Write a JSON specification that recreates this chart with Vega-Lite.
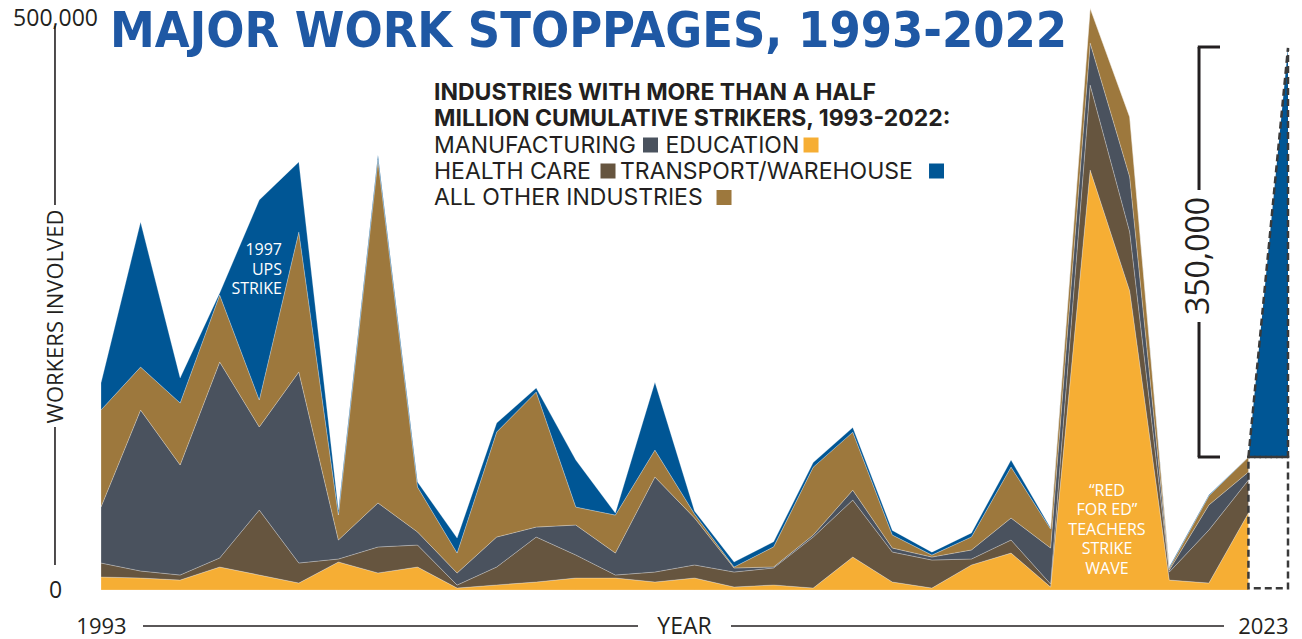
{
  "$schema": "https://vega.github.io/schema/vega-lite/v6.json",
  "width": 1187,
  "height": 572,
  "autosize": "none",
  "padding": {"left": 101, "top": 18, "right": 14, "bottom": 49},
  "background": "white",
  "config": {"view": {"stroke": null}, "axis": {"grid": false}, "font": "Open Sans"},
  "datasets": {
    "strikes": [
      {"year": 1993, "Education": 11400, "Health care": 12200, "Manufacturing": 49000, "All other industries": 84800, "Transport/warehouse": 23600},
      {"year": 1994, "Education": 10500, "Health care": 6100, "Manufacturing": 140700, "All other industries": 37600, "Transport/warehouse": 126700},
      {"year": 1995, "Education": 8700, "Health care": 4400, "Manufacturing": 96200, "All other industries": 54200, "Transport/warehouse": 21900},
      {"year": 1996, "Education": 20100, "Health care": 7900, "Manufacturing": 171300, "All other industries": 58600, "Transport/warehouse": 1700},
      {"year": 1997, "Education": 13100, "Health care": 56800, "Manufacturing": 72600, "All other industries": 23600, "Transport/warehouse": 174800},
      {"year": 1998, "Education": 6100, "Health care": 17500, "Manufacturing": 167000, "All other industries": 122400, "Transport/warehouse": 61200},
      {"year": 1999, "Education": 24500, "Health care": 2600, "Manufacturing": 16600, "All other industries": 21900, "Transport/warehouse": 4400},
      {"year": 2000, "Education": 14900, "Health care": 22700, "Manufacturing": 38500, "All other industries": 299800, "Transport/warehouse": 4400},
      {"year": 2001, "Education": 20100, "Health care": 19200, "Manufacturing": 11400, "All other industries": 39300, "Transport/warehouse": 4400},
      {"year": 2002, "Education": 1700, "Health care": 2600, "Manufacturing": 10500, "All other industries": 17500, "Transport/warehouse": 13100},
      {"year": 2003, "Education": 4400, "Health care": 15700, "Manufacturing": 26200, "All other industries": 91800, "Transport/warehouse": 7900},
      {"year": 2004, "Education": 7000, "Health care": 39300, "Manufacturing": 8700, "All other industries": 118000, "Transport/warehouse": 3500},
      {"year": 2005, "Education": 10500, "Health care": 20100, "Manufacturing": 26200, "All other industries": 15700, "Transport/warehouse": 41100},
      {"year": 2006, "Education": 10500, "Health care": 2600, "Manufacturing": 19200, "All other industries": 33200, "Transport/warehouse": 1700},
      {"year": 2007, "Education": 7000, "Health care": 8700, "Manufacturing": 83000, "All other industries": 23600, "Transport/warehouse": 59400},
      {"year": 2008, "Education": 10500, "Health care": 11400, "Manufacturing": 41100, "All other industries": 3500, "Transport/warehouse": 2600},
      {"year": 2009, "Education": 2600, "Health care": 13100, "Manufacturing": 3500, "All other industries": 900, "Transport/warehouse": 4400},
      {"year": 2010, "Education": 4400, "Health care": 14900, "Manufacturing": 900, "All other industries": 17500, "Transport/warehouse": 4400},
      {"year": 2011, "Education": 1700, "Health care": 44600, "Manufacturing": 1700, "All other industries": 59400, "Transport/warehouse": 4000},
      {"year": 2012, "Education": 28800, "Health care": 49800, "Manufacturing": 8700, "All other industries": 50700, "Transport/warehouse": 4000},
      {"year": 2013, "Education": 7000, "Health care": 26200, "Manufacturing": 3500, "All other industries": 11400, "Transport/warehouse": 4000},
      {"year": 2014, "Education": 1700, "Health care": 24500, "Manufacturing": 2600, "All other industries": 1700, "Transport/warehouse": 2600},
      {"year": 2015, "Education": 21900, "Health care": 5200, "Manufacturing": 7900, "All other industries": 11400, "Transport/warehouse": 3500},
      {"year": 2016, "Education": 32300, "Health care": 11400, "Manufacturing": 19200, "All other industries": 44600, "Transport/warehouse": 6100},
      {"year": 2017, "Education": 2600, "Health care": 2600, "Manufacturing": 31500, "All other industries": 16600, "Transport/warehouse": 900},
      {"year": 2018, "Education": 367100, "Health care": 74300, "Manufacturing": 36700, "All other industries": 30600, "Transport/warehouse": 0},
      {"year": 2019, "Education": 261400, "Health care": 51600, "Manufacturing": 48100, "All other industries": 52400, "Transport/warehouse": 0},
      {"year": 2020, "Education": 8700, "Health care": 7000, "Manufacturing": 1700, "All other industries": 1700, "Transport/warehouse": 900},
      {"year": 2021, "Education": 6100, "Health care": 46300, "Manufacturing": 21900, "All other industries": 7900, "Transport/warehouse": 900},
      {"year": 2022, "Education": 67300, "Health care": 28800, "Manufacturing": 7000, "All other industries": 13100, "Transport/warehouse": 0}
    ],
    "industries": [
      {"industry": "Education", "rank": 1},
      {"industry": "Health care", "rank": 2},
      {"industry": "Manufacturing", "rank": 3},
      {"industry": "All other industries", "rank": 4},
      {"industry": "Transport/warehouse", "rank": 5}
    ],
    "projection": [
      {"year": 2022, "workers": 116200},
      {"year": 2023, "workers": 473800}
    ]
  },
  "layer": [
    {
      "data": {"name": "strikes"},
      "transform": [
        {"fold": ["Education", "Health care", "Manufacturing", "All other industries", "Transport/warehouse"], "as": ["industry", "workers"]},
        {"lookup": "industry", "from": {"data": {"name": "industries"}, "key": "industry", "fields": ["rank"]}}
      ],
      "mark": {"type": "area", "interpolate": "linear", "stroke": "#ffffff", "strokeOpacity": 0.35, "strokeWidth": 0.7},
      "encoding": {
        "x": {
          "field": "year", "type": "quantitative",
          "scale": {"domain": [1993, 2023], "nice": false, "zero": false},
          "axis": {
            "values": [1993, 2023], "labelExpr": "toString(datum.value)", "ticks": false, "tickSize": 0, "domain": false,
            "labelFlush": false, "labelPadding": 36, "labelBaseline": "middle",
            "labelAlign": {"condition": {"test": "datum.value == 2023", "value": "right"}, "value": "center"},
            "labelFont": "Open Sans", "labelFontSize": 22, "labelColor": "#231F20",
            "title": "YEAR", "titleX": 583, "titleY": 36, "titleAlign": "center", "titleBaseline": "middle",
            "titleFont": "Open Sans", "titleFontSize": 23, "titleFontWeight": "normal", "titleColor": "#231F20"
          }
        },
        "y": {
          "field": "workers", "type": "quantitative", "stack": "zero",
          "scale": {"domain": [0, 500000], "nice": false},
          "axis": {
            "values": [0, 500000], "labelExpr": "format(datum.value, ',')", "ticks": false, "tickSize": 0, "domain": false,
            "offset": 46, "labelPadding": 0, "labelAlign": "center", "labelBaseline": "middle",
            "labelFont": "Open Sans", "labelFontSize": 23, "labelColor": "#231F20",
            "title": "WORKERS INVOLVED", "titleX": 0, "titleY": 298, "titleAngle": -90,
            "titleAlign": "center", "titleBaseline": "middle",
            "titleFont": "Open Sans", "titleFontSize": 22, "titleFontWeight": "normal", "titleColor": "#231F20"
          }
        },
        "color": {
          "field": "industry", "type": "nominal",
          "scale": {
            "domain": ["Education", "Health care", "Manufacturing", "All other industries", "Transport/warehouse"],
            "range": ["#F6AE34", "#66553F", "#4A525E", "#9D783D", "#005695"]
          },
          "legend": null
        },
        "order": {"field": "rank", "type": "quantitative", "sort": "ascending"}
      }
    },
    {
      "data": {"name": "projection"},
      "mark": {"type": "area", "color": "#005695", "stroke": "#3A3A3A", "strokeWidth": 2.5, "strokeDash": [7, 4]},
      "encoding": {
        "x": {"field": "year", "type": "quantitative"},
        "y": {"field": "workers", "type": "quantitative"},
        "y2": {"datum": 116200}
      }
    },
    {
      "data": {"values": [{}]},
      "mark": {"type": "rect", "fill": null, "stroke": "#3A3A3A", "strokeWidth": 2.5, "strokeDash": [7, 4]},
      "encoding": {
        "x": {"datum": 2022}, "x2": {"datum": 2023},
        "y": {"datum": 1500}, "y2": {"datum": 116200}
      }
    },
    {
      "data": {"values": [{}]},
      "mark": {"type": "text", "text": "MAJOR WORK STOPPAGES, 1993-2022", "align": "left", "baseline": "alphabetic",
               "font": "DejaVu Sans Condensed, Liberation Sans Narrow, Arial Narrow, DejaVu Sans", "fontWeight": "bold", "fontSize": 50, "fill": "#1F58A4"},
      "encoding": {"x": {"datum": 1993.227}, "y": {"datum": 474650}}
    },
    {
      "data": {"values": [{}]},
      "mark": {"type": "text", "text": ["INDUSTRIES WITH MORE THAN A HALF", "MILLION CUMULATIVE STRIKERS, 1993-2022:"],
               "lineHeight": 26, "align": "left", "baseline": "alphabetic", "font": "Inter", "fontWeight": "bold", "fontSize": 23, "fill": "#231F20"},
      "encoding": {"x": {"datum": 2001.416}, "y": {"datum": 428321}}
    },
    {
      "data": {"values": [{}]},
      "mark": {"type": "text", "text": "MANUFACTURING", "align": "left", "baseline": "alphabetic", "font": "Inter", "fontSize": 23, "fill": "#231F20"},
      "encoding": {"x": {"datum": 2001.416}, "y": {"datum": 381993}}
    },
    {
      "data": {"values": [{}]},
      "mark": {"type": "text", "text": "EDUCATION", "align": "left", "baseline": "alphabetic", "font": "Inter", "fontSize": 23, "fill": "#231F20"},
      "encoding": {"x": {"datum": 2007.267}, "y": {"datum": 381993}}
    },
    {
      "data": {"values": [{}]},
      "mark": {"type": "text", "text": "HEALTH CARE", "align": "left", "baseline": "alphabetic", "font": "Inter", "fontSize": 23, "fill": "#231F20"},
      "encoding": {"x": {"datum": 2001.416}, "y": {"datum": 359265}}
    },
    {
      "data": {"values": [{}]},
      "mark": {"type": "text", "text": "TRANSPORT/WAREHOUSE", "align": "left", "baseline": "alphabetic", "font": "Inter", "fontSize": 23, "fill": "#231F20"},
      "encoding": {"x": {"datum": 2006.117}, "y": {"datum": 359265}}
    },
    {
      "data": {"values": [{}]},
      "mark": {"type": "text", "text": "ALL OTHER INDUSTRIES", "align": "left", "baseline": "alphabetic", "font": "Inter", "fontSize": 23, "fill": "#231F20"},
      "encoding": {"x": {"datum": 2001.416}, "y": {"datum": 336538}}
    },
    {
      "data": {"values": [{}]},
      "mark": {"type": "square", "size": 225, "opacity": 1, "filled": true},
      "encoding": {"x": {"datum": 2006.888}, "y": {"datum": 388986}, "color": {"datum": "Manufacturing"}}
    },
    {
      "data": {"values": [{}]},
      "mark": {"type": "square", "size": 225, "opacity": 1, "filled": true},
      "encoding": {"x": {"datum": 2010.945}, "y": {"datum": 388986}, "color": {"datum": "Education"}}
    },
    {
      "data": {"values": [{}]},
      "mark": {"type": "square", "size": 225, "opacity": 1, "filled": true},
      "encoding": {"x": {"datum": 2005.814}, "y": {"datum": 366258}, "color": {"datum": "Health care"}}
    },
    {
      "data": {"values": [{}]},
      "mark": {"type": "square", "size": 225, "opacity": 1, "filled": true},
      "encoding": {"x": {"datum": 2014.117}, "y": {"datum": 366258}, "color": {"datum": "Transport/warehouse"}}
    },
    {
      "data": {"values": [{}]},
      "mark": {"type": "square", "size": 225, "opacity": 1, "filled": true},
      "encoding": {"x": {"datum": 2008.746}, "y": {"datum": 343094}, "color": {"datum": "All other industries"}}
    },
    {
      "data": {"values": [{}]},
      "mark": {"type": "text", "text": ["1997", "UPS", "STRIKE"], "lineHeight": 19.5, "align": "right", "baseline": "alphabetic", "font": "Open Sans", "fontSize": 16, "fill": "#ffffff"},
      "encoding": {"x": {"datum": 1997.575}, "y": {"datum": 292832}}
    },
    {
      "data": {"values": [{}]},
      "mark": {"type": "text", "text": ["\u201cRED", "FOR ED\u201d", "TEACHERS", "STRIKE", "WAVE"], "lineHeight": 19.5, "align": "center", "baseline": "alphabetic", "font": "Open Sans", "fontSize": 16, "fill": "#ffffff"},
      "encoding": {"x": {"datum": 2018.425}, "y": {"datum": 82168}}
    },
    {
      "data": {"values": [{}]},
      "mark": {"type": "rule", "stroke": "#231F20", "strokeWidth": 3},
      "encoding": {"x": {"datum": 2020.751}, "y": {"datum": 474650}, "y2": {"datum": 349650}}
    },
    {
      "data": {"values": [{}]},
      "mark": {"type": "rule", "stroke": "#231F20", "strokeWidth": 3},
      "encoding": {"x": {"datum": 2020.751}, "y": {"datum": 234266}, "y2": {"datum": 116259}}
    },
    {
      "data": {"values": [{}]},
      "mark": {"type": "rule", "stroke": "#231F20", "strokeWidth": 3},
      "encoding": {"x": {"datum": 2020.72}, "x2": {"datum": 2021.282}, "y": {"datum": 474650}}
    },
    {
      "data": {"values": [{}]},
      "mark": {"type": "rule", "stroke": "#231F20", "strokeWidth": 3},
      "encoding": {"x": {"datum": 2020.72}, "x2": {"datum": 2021.282}, "y": {"datum": 116259}}
    },
    {
      "data": {"values": [{}]},
      "mark": {"type": "text", "text": "350,000", "angle": 270, "align": "center", "baseline": "middle", "font": "Open Sans", "fontSize": 32, "fill": "#231F20"},
      "encoding": {"x": {"datum": 2020.751}, "y": {"datum": 291958}}
    },
    {
      "data": {"values": [{}]},
      "mark": {"type": "rule", "stroke": "#231F20", "strokeWidth": 1.6},
      "encoding": {"x": {"datum": 1991.837}, "y": {"datum": 493000}, "y2": {"datum": 336500}}
    },
    {
      "data": {"values": [{}]},
      "mark": {"type": "rule", "stroke": "#231F20", "strokeWidth": 1.6},
      "encoding": {"x": {"datum": 1991.837}, "y": {"datum": 142500}, "y2": {"datum": 21900}}
    },
    {
      "data": {"values": [{}]},
      "mark": {"type": "rule", "stroke": "#231F20", "strokeWidth": 1.6},
      "encoding": {"x": {"datum": 1994.061}, "x2": {"datum": 2006.572}, "y": {"datum": -31468}}
    },
    {
      "data": {"values": [{}]},
      "mark": {"type": "rule", "stroke": "#231F20", "strokeWidth": 1.6},
      "encoding": {"x": {"datum": 2008.922}, "x2": {"datum": 2021.382}, "y": {"datum": -31468}}
    }
  ]
}
